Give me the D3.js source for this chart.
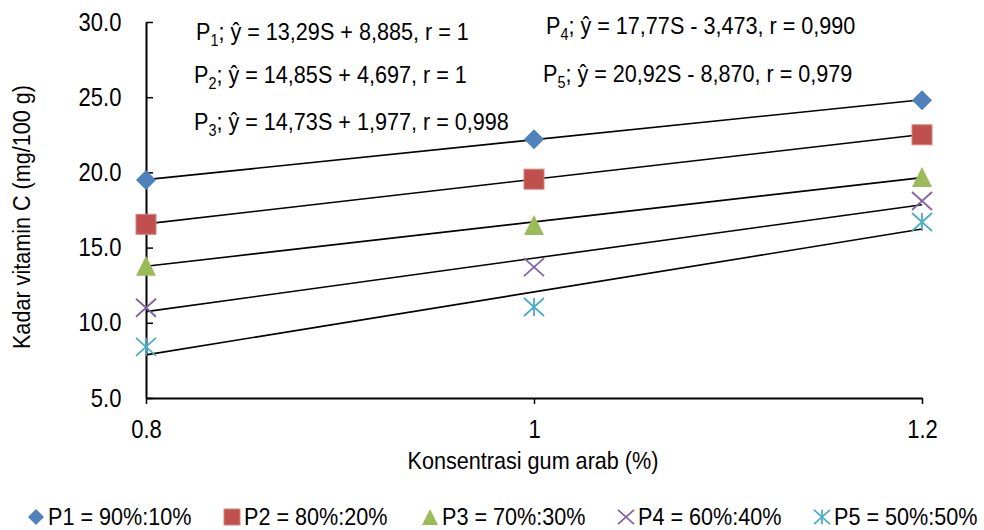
<!DOCTYPE html>
<html>
<head>
<meta charset="utf-8">
<script src="https://cdn.jsdelivr.net/npm/d3@7"></script>
<style>
body { margin:0; background:#fff; }
svg text { font-family: "Liberation Sans", Arial, sans-serif; fill:#000; }
</style>
</head>
<body>
<svg id="graph"></svg>
<script>
// konsentrasi gum arab (%)
var konsentrasi = [0.8, 1, 1.2];
var seriesNames = ["P1 = 90%:10%", "P2 = 80%:20%", "P3 = 70%:30%", "P4 = 60%:40%", "P5 = 50%:50%"];
// kadar vitamin C (mg/100 g)
var p1 = [19.5, 22.2, 24.8];
var p2 = [16.55, 19.55, 22.5];
var p3 = [13.8, 16.5, 19.7];
var p4 = [11.0, 13.7, 18.1];
var p5 = [8.4, 11.05, 16.7];
// trendline coefficients (ŷ = aS + b)
var slopes = [13.29, 14.85, 14.73, 17.77, 20.92];
var intercepts = [8.885, 4.697, 1.977, -3.473, -8.870];
var eqText = [
    ["13,29S + 8,885", "1"],
    ["14,85S + 4,697", "1"],
    ["14,73S + 1,977", "0,998"],
    ["17,77S - 3,473", "0,990"],
    ["20,92S - 8,870", "0,979"]
];
var yTicks = [5, 10, 15, 20, 25, 30];

var colors = ["#4F81BD", "#C0504D", "#9BBB59", "#8064A2", "#4BACC6"];
var shapes = ["diamond", "square", "triangle", "cross", "star"];

var screen = {width:984, height:530};
var xScale = d3.scaleLinear().domain([0.8, 1.2]).range([146, 922]);
var yScale = d3.scaleLinear().domain([5, 30]).range([398, 22]);

var svg = d3.select("#graph")
    .attr("width", screen.width)
    .attr("height", screen.height);

// draws a marker of given shape centred at 0,0
var drawMarker = function(g, shape, color, s)
{
    var h = s/2;
    if (shape == "diamond") {
        g.append("path")
            .attr("d", "M0," + (-h) + "L" + h + ",0L0," + h + "L" + (-h) + ",0Z")
            .attr("fill", color);
    }
    else if (shape == "square") {
        g.append("rect")
            .attr("x", -h).attr("y", -h)
            .attr("width", s).attr("height", s)
            .attr("fill", color)
            .attr("stroke", "#D4847F")
            .attr("stroke-width", 1);
    }
    else if (shape == "triangle") {
        g.append("path")
            .attr("d", "M0," + (-h) + "L" + h + "," + h + "L" + (-h) + "," + h + "Z")
            .attr("fill", color);
    }
    else if (shape == "cross") {
        g.append("path")
            .attr("d", "M" + (-h) + "," + (-h*0.9) + "L" + h + "," + (h*0.9) +
                       "M" + h + "," + (-h*0.9) + "L" + (-h) + "," + (h*0.9))
            .attr("stroke", color)
            .attr("stroke-width", 1.8)
            .attr("fill", "none");
    }
    else {
        g.append("path")
            .attr("d", "M" + (-h) + "," + (-h*0.9) + "L" + h + "," + (h*0.9) +
                       "M" + h + "," + (-h*0.9) + "L" + (-h) + "," + (h*0.9) +
                       "M0," + (-h*0.9) + "L0," + (h*0.9))
            .attr("stroke", color)
            .attr("stroke-width", 1.8)
            .attr("fill", "none");
    }
}

// axes
var xAxis = d3.axisBottom(xScale)
    .tickValues(konsentrasi)
    .tickFormat(function(d){ return d == 1 ? "1" : d3.format(".1f")(d); })
    .tickSizeInner(6)
    .tickSizeOuter(0)
    .tickPadding(16);
var yAxis = d3.axisLeft(yScale)
    .tickValues(yTicks)
    .tickFormat(d3.format(".1f"))
    .tickSizeInner(-7)
    .tickSizeOuter(0)
    .tickPadding(28);

var gx = svg.append("g")
    .attr("transform", "translate(0," + yScale(5) + ")")
    .call(xAxis);
var gy = svg.append("g")
    .attr("transform", "translate(" + xScale(0.8) + ",0)")
    .call(yAxis);

[gx, gy].forEach(function(ax){
    ax.select(".domain").attr("stroke", "#000").attr("stroke-width", 2);
    ax.selectAll(".tick line").attr("stroke", "#000").attr("stroke-width", 1.5);
    ax.selectAll(".tick text")
        .attr("font-size", 25)
        .attr("transform", "scale(0.88,1)")
        .style("font-family", "'Liberation Sans', Arial, sans-serif");
});

// axis titles
svg.append("text")
    .attr("transform", "translate(533,469) scale(0.9,1)")
    .attr("text-anchor", "middle")
    .attr("font-size", 24)
    .text("Konsentrasi gum arab (%)");
svg.append("text")
    .attr("transform", "translate(30,217) rotate(-90) scale(0.9,1)")
    .attr("text-anchor", "middle")
    .attr("font-size", 24)
    .text("Kadar vitamin C (mg/100 g)");

// trendlines
var allData = [p1, p2, p3, p4, p5];
var lineGen = d3.line()
    .x(function(d){ return xScale(d[0]); })
    .y(function(d){ return yScale(d[1]); });

allData.forEach(function(vals, i){
    var ends = [0.8, 1.2].map(function(s){ return [s, slopes[i]*s + intercepts[i]]; });
    svg.append("path")
        .datum(ends)
        .attr("d", lineGen)
        .attr("stroke", "#000")
        .attr("stroke-width", 1.6)
        .attr("fill", "none");
});

// points
allData.forEach(function(vals, i){
    var pts = svg.append("g").selectAll("g")
        .data(vals)
        .enter()
        .append("g")
        .attr("transform", function(d, j){
            return "translate(" + xScale(konsentrasi[j]) + "," + yScale(d) + ")";
        });
    pts.each(function(){
        drawMarker(d3.select(this), shapes[i], colors[i], 20);
    });
});

// equations
var eqPos = [[196, 40], [194, 83], [194, 130], [546, 34], [543, 82]];
eqText.forEach(function(eq, i){
    var t = svg.append("text")
        .attr("transform", "translate(" + eqPos[i][0] + "," + eqPos[i][1] + ") scale(0.9,1)")
        .attr("font-size", 24);
    t.append("tspan").text("P");
    t.append("tspan").attr("font-size", 16).attr("dy", 6).text(i + 1);
    t.append("tspan").attr("dy", -6).text("; ŷ = " + eq[0] + ", r = " + eq[1]);
});

// legend
var legX = [36, 232, 430, 626, 822];
seriesNames.forEach(function(name, i){
    var g = svg.append("g")
        .attr("transform", "translate(" + legX[i] + ",517)");
    drawMarker(g, shapes[i], colors[i], 16);
    g.append("text")
        .attr("transform", "translate(12,8) scale(0.9,1)")
        .attr("font-size", 24)
        .text(name);
});
</script>
</body>
</html>
